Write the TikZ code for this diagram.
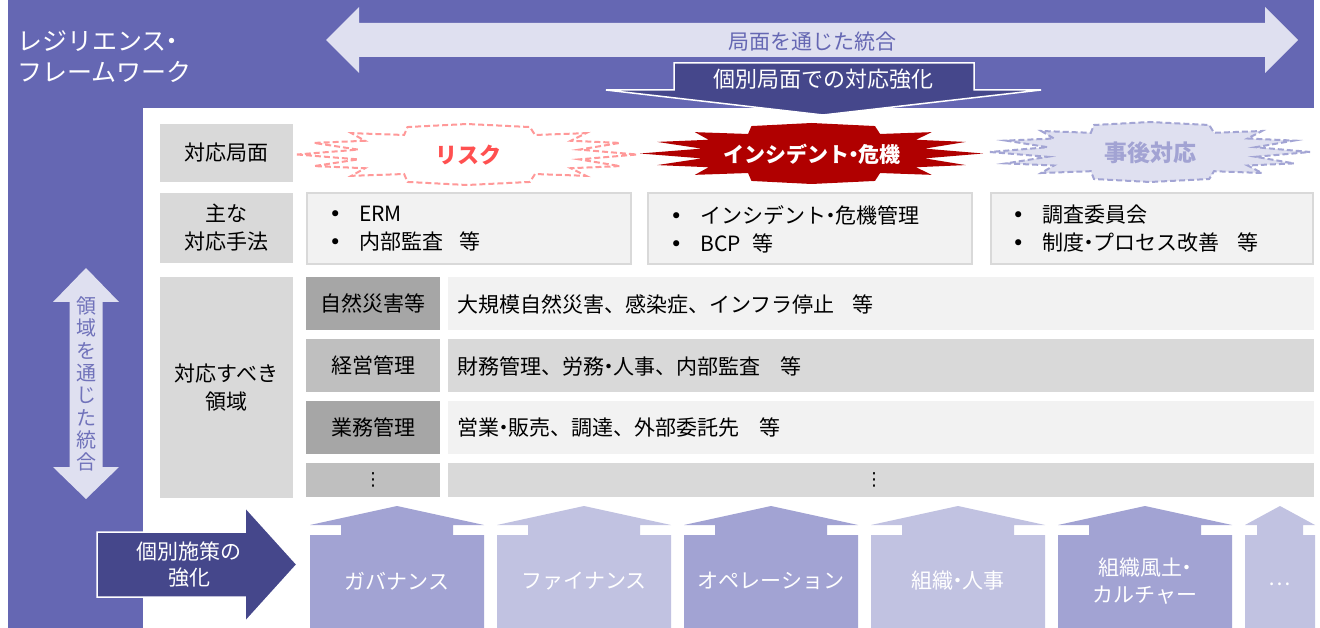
\documentclass[tikz,border=0pt]{standalone}
\usepackage{fontspec}
\setmainfont{Noto Sans CJK JP}
\newfontfamily\dvs{DejaVu Sans}
\definecolor{purp}{HTML}{6567B3}
\definecolor{lav}{HTML}{DFE0F0}
\definecolor{navy}{HTML}{45478B}
\definecolor{colA}{HTML}{A2A3D3}
\definecolor{colB}{HTML}{C1C2E1}
\definecolor{gA}{HTML}{D9D9D9}
\definecolor{gB}{HTML}{F2F2F2}
\definecolor{gC}{HTML}{A6A6A6}
\definecolor{gD}{HTML}{BFBFBF}
\definecolor{crimson}{HTML}{B00000}
\definecolor{pinkline}{HTML}{FF9999}
\definecolor{risktext}{HTML}{FF5050}
\definecolor{postline}{HTML}{A3A5D4}
\definecolor{posttext}{HTML}{A2A3D3}
\definecolor{vtext}{HTML}{7072BA}
\newcommand\fsz[2]{\fontsize{#1pt}{#2pt}\selectfont}
\newcommand\md{\kern-0.27em・\kern-0.27em}
\newcommand\rectnode[7]{\node[bx,#6,minimum width={(#4-#2)*1pt},minimum height={(#5-#3)*1pt}] (#1) at ({(#2+#4)/2},{(#3+#5)/2}) {#7};}
\newcommand\upcol[4]{\fill[#4] (#1,628) -- ++(0,-93) -- ++(#3,0) -- ++(0,-10) -- ++(-#3,0) -- ++({#2/2},-19) -- ++({#2/2},19) -- ++(-#3,0) -- ++(0,10) -- ++(#3,0) -- ++(0,93) -- cycle;}
\tikzset{burst/.pic={\path[pic actions] (-1,0) -- (-0.64,0.16) -- (-0.9,0.38) -- (-0.6,0.45) -- (-0.68,0.70) -- (-0.37,0.64) -- (-0.35,0.90) -- (0,1) -- (0.37,0.90) -- (0.40,0.64) -- (0.70,0.70) -- (0.61,0.45) -- (0.90,0.38) -- (0.66,0.16) -- (1,0) -- (0.66,-0.16) -- (0.90,-0.38) -- (0.61,-0.45) -- (0.70,-0.70) -- (0.40,-0.64) -- (0.37,-0.90) -- (0,-1) -- (-0.35,-0.90) -- (-0.37,-0.64) -- (-0.68,-0.70) -- (-0.6,-0.45) -- (-0.9,-0.38) -- (-0.64,-0.16) -- cycle;}}
\begin{document}
\begin{tikzpicture}[x=1pt,y=-1pt,
  bx/.style={inner sep=0pt,outer sep=0pt,anchor=center},
  lab/.style={fill=gA,font=\fsz{21}{28},align=center},
  bul/.style={fill=gB,draw=gA,line width=2pt},
  rowtxt/.style={anchor=west,font=\fsz{21}{26},inner sep=0pt},
  bultxt/.style={anchor=west,font=\fsz{21}{28},align=left,inner sep=0pt},
  coltxt/.style={text=white,font=\fsz{21}{27},align=center},
  dashline/.style={line width=2pt,dash pattern=on 6pt off 3pt}]
\useasboundingbox (0,0) rectangle (1320,628);
\fill[white] (0,0) rectangle (1320,628);
% purple frame
\fill[purp] (8,0) rectangle (1314,108);
\fill[purp] (8,0) rectangle (143,628);
\node[anchor=west,text=white,font=\fsz{25}{31},align=left,inner sep=0pt] (title) at (17,57) {レジリエンス\md\\フレームワーク};
% horizontal integration arrow
\fill[lav] (326,40) -- (359,7) -- (359,23) -- (1265,23) -- (1265,7) -- (1298,40) -- (1265,73) -- (1265,57) -- (359,57) -- (359,73) -- cycle;
\node[text=purp,font=\fsz{21}{25}] (phaseint) at (812,42) {局面を通じた統合};
% down callout
\filldraw[fill=navy,draw=white,line width=1.5pt] (674,63) -- (974,63) -- (974,90) -- (1041,90) -- (823,115) -- (606,90) -- (674,90) -- cycle;
\node[text=white,font=\fsz{22}{26}] (focus) at (823,79) {個別局面での対応強化};
% row 1
\rectnode{l1}{160}{124}{293}{182}{lab}{対応局面}
\pic[fill=white,draw=pinkline,dashline,xscale=170,yscale=30.5] (riskshape) at (467,154.5) {burst};
\node[text=risktext,font=\bfseries\fsz{22}{26}] (risk) at (468,155) {リスク};
\pic[fill=crimson,xscale=171.5,yscale=30.5] (incshape) at (811.5,153.5) {burst};
\node[text=white,font=\bfseries\fsz{21}{26}] (inc) at (812,154) {インシデント\md 危機};
\pic[fill=lav,draw=postline,dashline,xscale=160,yscale=30] (postshape) at (1150,152) {burst};
\node[text=posttext,font=\bfseries\fsz{23}{26}] (post) at (1150,153) {事後対応};
% row 2
\rectnode{l2}{160}{193}{293}{263}{lab}{主な\\対応手法}
\rectnode{b1}{307}{193}{631}{264}{bul}{}
\rectnode{b2}{648}{193}{972}{264}{bul}{}
\rectnode{b3}{991}{193}{1313}{264}{bul}{}
\node[bultxt] (t1) at (329,229) {\makebox[30pt][l]{\dvs •}ERM\\\makebox[30pt][l]{\dvs •}内部監査\hspace{16pt}等};
\node[bultxt] (t2) at (670,229) {\makebox[30pt][l]{\dvs •}インシデント\md 危機管理\\\makebox[30pt][l]{\dvs •}BCP\hspace{12pt}等};
\node[bultxt] (t3) at (1012,229) {\makebox[30pt][l]{\dvs •}調査委員会\\\makebox[30pt][l]{\dvs •}制度\md プロセス改善\hspace{18pt}等};
% row 3
\rectnode{l3}{160}{277}{293}{498}{lab}{対応すべき\\領域}
\rectnode{s1}{306}{277}{440}{330}{fill=gC,font=\fsz{21}{26}}{自然災害等}
\rectnode{c1}{448}{277}{1314}{330}{fill=gB}{}
\rectnode{s2}{306}{339}{440}{392}{fill=gD,font=\fsz{21}{26}}{経営管理}
\rectnode{c2}{448}{339}{1314}{392}{fill=gA}{}
\rectnode{s3}{306}{401}{440}{454}{fill=gC,font=\fsz{21}{26}}{業務管理}
\rectnode{c3}{448}{401}{1314}{454}{fill=gB}{}
\rectnode{s4}{306}{463}{440}{497}{fill=gD,font=\dvs\fsz{18}{20}}{⋮}
\rectnode{c4}{448}{463}{1314}{497}{fill=gA}{}
\node[font=\dvs\fsz{18}{20}] (dots2) at (874,480) {⋮};
\node[rowtxt] (r1) at (457,304) {大規模自然災害、感染症、インフラ停止\hspace{18pt}等};
\node[rowtxt] (r2) at (457,366) {財務管理、労務\md 人事、内部監査\hspace{20pt}等};
\node[rowtxt] (r3) at (457,428) {営業\md 販売、調達、外部委託先\hspace{20pt}等};
% vertical integration arrow
\fill[lav] (86,268) -- (119,302) -- (102.5,302) -- (102.5,467) -- (119,467) -- (86,499) -- (53,467) -- (69.5,467) -- (69.5,302) -- (53,302) -- cycle;
\node[text=vtext,font=\fsz{20}{22.3},align=center] (vint) at (86,384) {領\\域\\を\\通\\じ\\た\\統\\合};
% left navy arrow
\filldraw[fill=navy,draw=white,line width=1.5pt] (97,532) -- (245,532) -- (245,507) -- (297,564.5) -- (245,622) -- (245,597) -- (97,597) -- cycle;
\node[text=white,font=\fsz{21}{26},align=center] (measure) at (189,565) {個別施策の\\強化};
% bottom columns
\upcol{310}{174}{31}{colA}
\upcol{497}{174}{31}{colB}
\upcol{684}{174}{31}{colA}
\upcol{871}{174}{31}{colB}
\upcol{1058}{174}{31}{colA}
\upcol{1245}{70}{12}{colB}
\node[coltxt] (gov) at (397,581) {ガバナンス};
\node[coltxt] (fin) at (584,581) {ファイナンス};
\node[coltxt] (ope) at (771,581) {オペレーション};
\node[coltxt] (hr) at (958,581) {組織\md 人事};
\node[coltxt] (cul) at (1145,581) {組織風土\md\\カルチャー};
\node[coltxt] (more) at (1280,584) {…};
\end{tikzpicture}
\end{document}
